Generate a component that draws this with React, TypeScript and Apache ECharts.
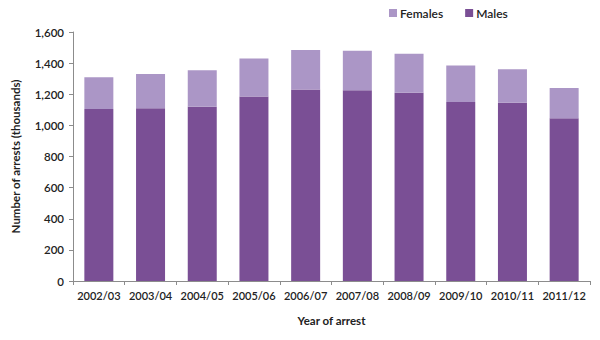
import React, { useEffect, useRef } from "react";
import * as echarts from "echarts";

const categories = ["2002/03", "2003/04", "2004/05", "2005/06", "2006/07", "2007/08", "2008/09", "2009/10", "2010/11", "2011/12"];
const males = [1105, 1110, 1120, 1185, 1230, 1225, 1210, 1150, 1145, 1045];
const females = [205, 220, 235, 245, 255, 255, 250, 235, 215, 195];
const yTicks = [0, 200, 400, 600, 800, 1000, 1200, 1400, 1600];

const FONT = "Lato, 'Open Sans', sans-serif";

export default function App() {
  const ref = useRef<HTMLDivElement>(null);
  useEffect(() => {
    if (!ref.current) return;
    const chart = echarts.init(ref.current, null, { renderer: "svg" });
    chart.setOption({
      animation: false,
      textStyle: { fontFamily: FONT },
      legend: {
        data: ["Females", "Males"],
        top: 2,
        left: 384,
        itemWidth: 8,
        itemHeight: 8,
        itemGap: 22,
        icon: "rect",
        textStyle: { fontSize: 12, color: "#222", fontFamily: FONT, fontWeight: 600, padding: [0, 0, 0, -2] },
      },
      grid: { left: 73, right: 10, top: 32, bottom: 59 },
      xAxis: {
        type: "category",
        data: categories,
        name: "Year of arrest",
        nameLocation: "middle",
        nameGap: 33,
        nameTextStyle: { fontSize: 11.5, fontWeight: "bold", color: "#222", fontFamily: FONT },
        axisLine: { lineStyle: { color: "#8c8c8c" } },
        axisTick: { show: true, length: 4, lineStyle: { color: "#8c8c8c" } },
        axisLabel: { interval: 0, fontSize: 11, color: "#222", fontWeight: 600, margin: 9, fontFamily: FONT },
      },
      yAxis: {
        type: "value",
        min: 0,
        max: 1600,
        interval: 200,
        name: "Number of arrests (thousands)",
        nameLocation: "middle",
        nameGap: 52,
        nameRotate: 90,
        nameTextStyle: { fontSize: 11.5, fontWeight: "bold", color: "#222", fontFamily: FONT },
        axisLine: { show: true, lineStyle: { color: "#8c8c8c" } },
        axisTick: { show: true, length: 4, lineStyle: { color: "#8c8c8c" } },
        splitLine: { show: false },
        axisLabel: {
          fontSize: 11.5,
          color: "#222",
          fontWeight: 600,
          margin: 9,
          fontFamily: FONT,
          formatter: (v: number) => (yTicks.includes(v) ? v.toLocaleString("en-US") : ""),
        },
      },
      series: [
        {
          name: "Males",
          type: "bar",
          stack: "total",
          data: males,
          barWidth: 29,
          itemStyle: { color: "#7a4f95" },
        },
        {
          name: "Females",
          type: "bar",
          stack: "total",
          data: females,
          barWidth: 29,
          itemStyle: { color: "#ab96c6" },
        },
      ],
    });
    return () => chart.dispose();
  }, []);
  return <div ref={ref} style={{ width: 600, height: 340, position: "absolute", left: 0, top: 0 }} />;
}
